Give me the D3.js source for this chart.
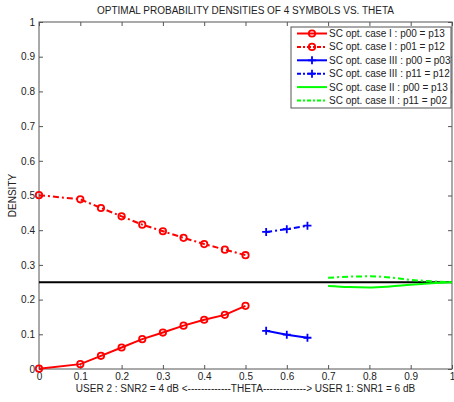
<!DOCTYPE html>
<html>
<head>
<meta charset="utf-8">
<script src="https://cdn.jsdelivr.net/npm/d3@7"></script>
<style>
body { margin: 0; background: #fff; }
text { font-family: "Liberation Sans", Arial, sans-serif; }
</style>
</head>
<body>
<div id="chart"></div>
<script>
var theta_I = [0, 0.1, 0.15, 0.2, 0.25, 0.3, 0.35, 0.4, 0.45, 0.5];
var caseI_p00 = [0.001, 0.014, 0.038, 0.062, 0.086, 0.105, 0.125, 0.142, 0.156, 0.182];
var caseI_p01 = [0.501, 0.489, 0.464, 0.440, 0.416, 0.397, 0.378, 0.360, 0.344, 0.328];
var theta_III = [0.55, 0.6, 0.65];
var caseIII_p00 = [0.110, 0.099, 0.090];
var caseIII_p11 = [0.395, 0.403, 0.413];
var theta_II = [0.7, 0.75, 0.8, 0.85, 0.9, 0.95, 1.0];
var caseII_p00 = [0.239, 0.236, 0.235, 0.238, 0.243, 0.247, 0.250];
var caseII_p11 = [0.263, 0.266, 0.267, 0.264, 0.257, 0.253, 0.250];
var xTicks = [0, 0.1, 0.2, 0.3, 0.4, 0.5, 0.6, 0.7, 0.8, 0.9, 1];
var yTicks = [0, 0.1, 0.2, 0.3, 0.4, 0.5, 0.6, 0.7, 0.8, 0.9, 1];
var series = [
    { label: "SC opt. case I : p00 = p13", x: theta_I, y: caseI_p00, color: "#ff0000", dash: null, marker: "circle" },
    { label: "SC opt. case I : p01 = p12", x: theta_I, y: caseI_p01, color: "#ff0000", dash: "6,3,2,3", marker: "circle" },
    { label: "SC opt. case III : p00 = p03", x: theta_III, y: caseIII_p00, color: "#0000ff", dash: null, marker: "plus" },
    { label: "SC opt. case III : p11 = p12", x: theta_III, y: caseIII_p11, color: "#0000ff", dash: "6,3,2,3", marker: "plus" },
    { label: "SC opt. case II : p00 = p13", x: theta_II, y: caseII_p00, color: "#00ff00", dash: null, marker: null },
    { label: "SC opt. case II : p11 = p02", x: theta_II, y: caseII_p11, color: "#00ff00", dash: "6,3,2,3", marker: null }
];

var W = 454, H = 402;
var margin = { top: 22, right: 2, bottom: 33, left: 39 };
var width = W - margin.left - margin.right,
    height = H - margin.top - margin.bottom;

var svg = d3.select("#chart")
    .append("svg")
    .attr("width", W)
    .attr("height", H);

var g = svg.append("g")
    .attr("transform", "translate(" + margin.left + "," + margin.top + ")");

var x = d3.scaleLinear().domain([0, 1]).range([0, width]);
var y = d3.scaleLinear().domain([0, 1]).range([height, 0]);

// frame
g.append("rect")
    .attr("width", width)
    .attr("height", height)
    .attr("fill", "none")
    .attr("stroke", "#555");

var fmt = function (d) { return d3.format("")(+d.toFixed(1)); };

var xAxis = g.append("g")
    .attr("transform", "translate(0," + height + ")")
    .call(d3.axisBottom(x).tickValues(xTicks).tickSize(-4).tickPadding(4).tickFormat(fmt));
var xTop = g.append("g")
    .call(d3.axisTop(x).tickValues(xTicks).tickSize(-4).tickFormat(""));
var yAxis = g.append("g")
    .call(d3.axisLeft(y).tickValues(yTicks).tickSize(-4).tickPadding(4).tickFormat(fmt));
var yRight = g.append("g")
    .attr("transform", "translate(" + width + ",0)")
    .call(d3.axisRight(y).tickValues(yTicks).tickSize(-4).tickFormat(""));

[xAxis, xTop, yAxis, yRight].forEach(function (a) {
    a.select(".domain").remove();
    a.selectAll(".tick line").attr("stroke", "#555");
    a.selectAll("text").attr("fill", "#222").style("font-size", "10px")
        .style("font-family", "'Liberation Sans', Arial, sans-serif");
});

// reference line at 0.25
g.append("line")
    .attr("x1", x(0)).attr("x2", x(1))
    .attr("y1", y(0.25)).attr("y2", y(0.25))
    .attr("stroke", "#000")
    .attr("stroke-width", 2);

var line = d3.line()
    .x(function (d) { return x(d[0]); })
    .y(function (d) { return y(d[1]); });
var curve = d3.line()
    .curve(d3.curveMonotoneX)
    .x(function (d) { return x(d[0]); })
    .y(function (d) { return y(d[1]); });

function drawMarker(sel, type, color, px, py) {
    if (type === "circle") {
        sel.append("circle")
            .attr("cx", px).attr("cy", py).attr("r", 3.2)
            .attr("fill", "none").attr("stroke", color).attr("stroke-width", 1.8);
    } else if (type === "plus") {
        sel.append("path")
            .attr("d", "M" + (px - 4) + "," + py + "H" + (px + 4) + "M" + px + "," + (py - 4) + "V" + (py + 4))
            .attr("stroke", color).attr("stroke-width", 1.8);
    }
}

series.forEach(function (s) {
    var pts = s.x.map(function (v, i) { return [v, s.y[i]]; });
    g.append("path")
        .datum(pts)
        .attr("d", s.marker ? line : curve)
        .attr("fill", "none")
        .attr("stroke", s.color)
        .attr("stroke-width", 2)
        .attr("stroke-dasharray", s.dash);
    var mg = g.append("g");
    pts.forEach(function (p) { drawMarker(mg, s.marker, s.color, x(p[0]), y(p[1])); });
});

// legend
var leg = svg.append("g").attr("transform", "translate(291,27)");
leg.append("rect")
    .attr("width", 160).attr("height", 81)
    .attr("fill", "#fff").attr("stroke", "#555");
series.forEach(function (s, i) {
    var ly = 6.5 + i * 13.4;
    leg.append("line")
        .attr("x1", 6).attr("x2", 36).attr("y1", ly).attr("y2", ly)
        .attr("stroke", s.color).attr("stroke-width", 2)
        .attr("stroke-dasharray", s.dash ? "4,2,2,2" : null);
    drawMarker(leg, s.marker, s.color, 21, ly);
    leg.append("text")
        .attr("x", 38).attr("y", ly + 3.5)
        .style("font-size", "10px")
        .attr("fill", "#222")
        .text(s.label);
});

// title and axis labels
svg.append("text")
    .attr("x", margin.left + width / 2).attr("y", 14)
    .attr("text-anchor", "middle")
    .style("font-size", "10px")
    .attr("fill", "#222")
    .text("OPTIMAL PROBABILITY DENSITIES OF 4 SYMBOLS VS. THETA");
svg.append("text")
    .attr("x", margin.left + width / 2).attr("y", 392)
    .attr("text-anchor", "middle")
    .style("font-size", "10px")
    .attr("fill", "#222")
    .text("USER 2 : SNR2 = 4 dB <-------------THETA-------------> USER 1: SNR1 = 6 dB");
svg.append("text")
    .attr("transform", "translate(16," + (margin.top + height / 2) + ") rotate(-90)")
    .attr("text-anchor", "middle")
    .style("font-size", "10px")
    .attr("fill", "#222")
    .text("DENSITY");
</script>
</body>
</html>
